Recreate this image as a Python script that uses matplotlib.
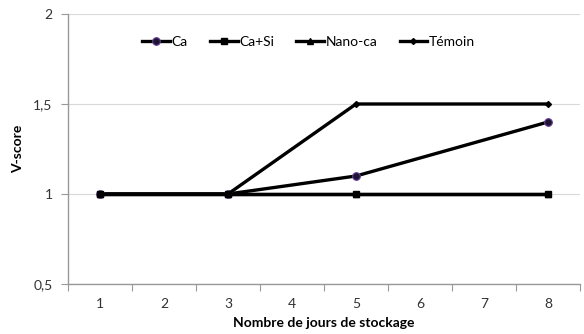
import numpy as np
import matplotlib.pyplot as plt

plt.rcParams['font.family'] = ['Lato', 'DejaVu Sans']

# données
jours = [1, 2, 3, 4, 5, 6, 7, 8]
jours_mesure = [1, 3, 5, 8]
ca = [1.0, 1.0, 1.1, 1.4]
ca_si = [1.0, 1.0, 1.0, 1.0]
nano_ca = [1.0, 1.0, 1.0, 1.0]
temoin = [1.0, 1.0, 1.5, 1.5]
y_ticks = [0.5, 1.0, 1.5, 2.0]
y_labels = ['0,5', '1', '1,5', '2']

fig = plt.figure(figsize=(5.84, 3.34), dpi=100)
ax = fig.add_axes([68/584, 50/334, 512/584, 270/334])

lw = 2.4
h_tem, = ax.plot(jours_mesure, temoin, color='black', lw=lw, marker='D', ms=3, zorder=3, label='Témoin')
h_nano, = ax.plot(jours_mesure, nano_ca, color='black', lw=lw, marker='^', ms=5, zorder=3, label='Nano-ca')
h_ca, = ax.plot(jours_mesure, ca, color='black', lw=lw, marker='o', ms=5.5,
                markerfacecolor='#1c1530', markeredgecolor='#6a3d9a', markeredgewidth=0.8,
                zorder=4, label='Ca')
h_casi, = ax.plot(jours_mesure, ca_si, color='black', lw=lw, marker='s', ms=5, zorder=5, label='Ca+Si')

ax.set_xlim(0.5, 8.5)
ax.set_ylim(0.5, 2.0)
ax.set_yticks(y_ticks)
ax.set_yticklabels(y_labels)
ax.set_xticks(np.arange(0.5, 9.0, 1.0))
ax.set_xticklabels([])
ax.set_xticks(jours, minor=True)
ax.set_xticklabels([str(j) for j in jours], minor=True)
ax.tick_params(axis='x', which='minor', length=0, pad=10, labelsize=10, colors='#333333')
ax.tick_params(axis='x', which='major', length=5, color='#999999')
ax.tick_params(axis='y', length=5, color='#999999', labelsize=10, labelcolor='#333333', pad=6)

ax.grid(axis='y', color='#d9d9d9', lw=0.8)
ax.set_axisbelow(True)
for s in ['top', 'right']:
    ax.spines[s].set_visible(False)
for s in ['left', 'bottom']:
    ax.spines[s].set_color('#999999')
    ax.spines[s].set_linewidth(1)

ax.set_xlabel('Nombre de jours de stockage', fontweight='bold', fontsize=10)
ax.xaxis.set_label_coords(0.5, -33/270)
ax.set_ylabel('V-score', fontweight='bold', fontsize=10)
ax.yaxis.set_label_coords(-44/512, 0.5)

ax.legend(handles=[h_ca, h_casi, h_nano, h_tem], loc='upper center', bbox_to_anchor=(0.47, 0.965),
          ncol=4, frameon=False, fontsize=10, handlelength=2.0, handletextpad=0.1, columnspacing=1.6)

plt.savefig('out.png', dpi=100)
